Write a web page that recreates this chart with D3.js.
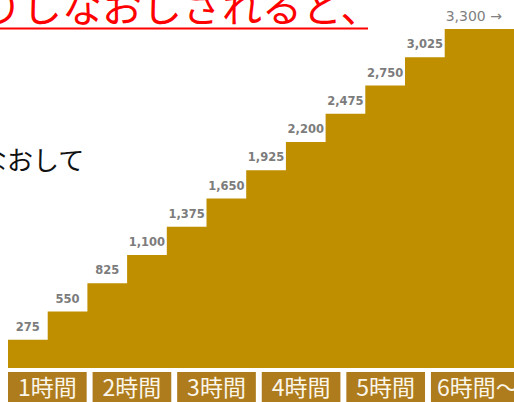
<!DOCTYPE html>
<html>
<head>
<meta charset="utf-8">
<script src="https://cdn.jsdelivr.net/npm/d3@7"></script>
<style>
  body { margin: 0; background: #fff; }
  svg { display: block; }
</style>
</head>
<body>
<svg id="chart"></svg>
<script>
    // price for each step (yen)
    var prices = [275, 550, 825, 1100, 1375, 1650, 1925, 2200, 2475, 2750, 3025, 3300];
    var hourLabels = ["1時間", "2時間", "3時間", "4時間", "5時間", "6時間～"];
    var headline = "りしなおしされると、";
    var subline = "しなおして";

    var width = 514, height = 402;
    var gold = "#c08f00", boxColor = "#ae7c1d";

    var svg = d3.select("#chart")
        .attr("width", width)
        .attr("height", height);

    var x = d3.scaleLinear()
        .domain([0, prices.length])
        .range([8, 8 + prices.length * 39.7]);

    var y = d3.scaleLinear()
        .domain([0, 3300])
        .range([368, 29]);

    // staircase, the last step runs to the right edge
    var stairData = prices.map(function(d, i) { return {x: x(i), v: d}; });
    stairData.push({x: width, v: prices[prices.length - 1]});

    var area = d3.area()
        .curve(d3.curveStepAfter)
        .x(function(d) { return d.x; })
        .y0(y(0))
        .y1(function(d) { return y(d.v); });

    svg.append("path")
        .datum(stairData)
        .attr("d", area)
        .attr("fill", gold);

    // price labels above each step
    var fmt = d3.format(",");
    var last = prices.length - 1;
    svg.selectAll("text.price")
        .data(prices)
        .enter().append("text")
        .attr("class", "price")
        .attr("x", function(d, i) {
            return i == last ? x(i) + 1 : (x(i) + x(i + 1)) / 2;
        })
        .attr("y", function(d, i) { return y(d) - (i == last ? 8 : 9); })
        .attr("text-anchor", function(d, i) { return i == last ? "start" : "middle"; })
        .style("font-family", "'DejaVu Sans', Verdana, sans-serif")
        .style("font-size", function(d, i) { return i == last ? "14px" : "11.5px"; })
        .style("font-weight", function(d, i) { return i == last ? "normal" : "bold"; })
        .style("fill", function(d, i) { return i == last ? "#808080" : "#7c7c7c"; })
        .text(function(d, i) { return fmt(d) + (i == last ? " →" : ""); });

    // hour boxes along the bottom
    var band = d3.scaleBand()
        .domain(hourLabels)
        .range([8, 8 + hourLabels.length * 83.6])
        .paddingInner(0.07)
        .paddingOuter(0);

    var boxes = svg.selectAll("g.hour")
        .data(hourLabels)
        .enter().append("g")
        .attr("class", "hour")
        .attr("transform", function(d) { return "translate(" + band(d) + ",372)"; });

    boxes.append("rect")
        .attr("width", function(d, i) { return i == hourLabels.length - 1 ? width - band(d) + 10 : band.bandwidth(); })
        .attr("height", 40)
        .attr("fill", boxColor);

    boxes.append("text")
        .attr("x", function(d, i) { return i == hourLabels.length - 1 ? 6 : band.bandwidth() / 2; })
        .attr("y", 24)
        .attr("text-anchor", function(d, i) { return i == hourLabels.length - 1 ? "start" : "middle"; })
        .style("font-family", "'Noto Sans CJK JP', sans-serif")
        .style("font-size", "23px")
        .style("fill", "#fbf6ea")
        .text(function(d) { return d; });

    // headline text that is cut off on the left
    svg.append("text")
        .attr("x", -18)
        .attr("y", 22)
        .style("font-family", "'Noto Sans CJK JP', sans-serif")
        .style("font-size", "40px")
        .style("fill", "#ff0000")
        .text(headline);

    svg.append("rect")
        .attr("x", 0)
        .attr("y", 27.5)
        .attr("width", 368)
        .attr("height", 2)
        .attr("fill", "#ff0000");

    svg.append("text")
        .attr("x", -45)
        .attr("y", 170)
        .style("font-family", "'Noto Sans CJK JP', sans-serif")
        .style("font-size", "26px")
        .style("fill", "#111")
        .text(subline);
</script>
</body>
</html>
